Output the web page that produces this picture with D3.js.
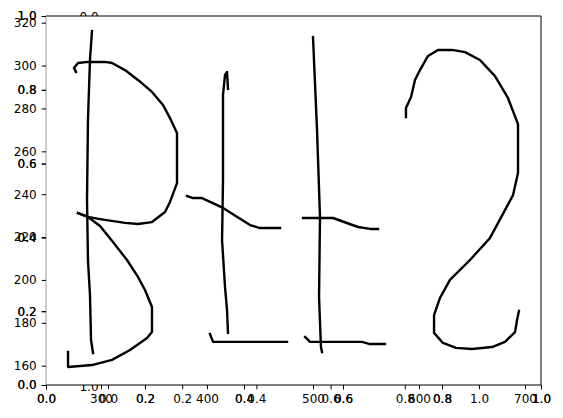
<!DOCTYPE html>
<html>
<head>
<meta charset="utf-8">
<script src="https://cdn.jsdelivr.net/npm/d3@7"></script>
<style>
  html, body { margin: 0; padding: 0; background: #fff; }
  svg text { font-family: "DejaVu Sans", sans-serif; font-size: 12px; fill: #000; }
</style>
</head>
<body>
<svg id="chart" width="563" height="418"></svg>
<script>
// strokes of the handwriting, in data units (x 300..700, y 160..320)
const bStem = [[291.5,316.1],[289.6,302.6],[287.7,274.6],[286.8,237.3],[287.7,209.3],[289.6,193],[290.6,172],[292.5,165.9]]
const bUpper = [[276.4,297],[274.5,298.9],[278.3,301.2],[287.7,301.7],[303.8,301.7],[310.4,301.2],[322.6,297.9],[334.9,293.3],[348.1,287.7],[358.5,281.6],[365.1,275.5],[371.7,268.5],[371.7,245.2],[365.1,236.4],[360.4,231.7],[348.1,227],[334.9,226.1],[322.6,226.6],[299.1,228.4],[287.7,229.4],[278.3,231.2]]
const bLower = [[278.3,231.2],[287.7,229.4],[299.1,225.2],[311.3,217.7],[324.5,209.3],[334.9,201.4],[341.5,195.3],[348.1,187.4],[348.1,175.7],[343.4,172.9],[327.4,167.3],[310.4,162.7],[291.5,160.3],[268.9,159.4],[268.9,166.4]]
const t1Stem = [[419.8,289.1],[418.9,297],[417,295.6],[415.1,286.3],[415.1,246.6],[414.2,218.6],[417,196.7],[418.9,186],[419.8,175.3]]
const t1Bar = [[381.1,239.2],[386.8,238.2],[395.3,238.2],[415.1,233.6],[440.6,225.6],[450,224.2],[468.9,224.2]]
const t1Base = [[402.8,174.8],[405.7,171.1],[475.5,171.1]]
const t2Stem = [[500,313.3],[503.8,269.9],[506.6,229.4],[505.7,192],[507.5,168.7],[508.5,166.4]]
const t2Bar = [[490.6,228.9],[518.9,228.9],[542.5,224.7],[553.8,223.8],[561.3,223.8]]
const t2Base = [[492.5,173.4],[497.2,171.1],[546.2,171.1],[553.8,170.1],[567.9,170.1]]
const two = [[587.7,276],[587.7,280.2],[592.5,285.3],[596.2,293.3],[600.9,297.9],[608.5,304.5],[617.9,307.3],[631.1,307.3],[643.4,306.3],[657.5,302.6],[671.7,295.1],[683.9,284.9],[693.4,272.7],[693.4,249.9],[688.7,239.6],[681.1,232.6],[667,219.6],[648.1,209.3],[629.2,200],[619.8,191.6],[614.2,183.6],[614.2,175.3],[622.6,170.6],[634.9,168.3],[650,167.8],[668.9,168.7],[681.1,171.1],[690.6,175.7],[692.5,181.3],[694.3,185.5]]
const strokes = [bStem, bUpper, bLower, t1Stem, t1Bar, t1Base, t2Stem, t2Bar, t2Base, two]

// tick values
const unitTicks = [0, 0.2, 0.4, 0.6, 0.8, 1.0]
const dataXTicks = [300, 400, 500, 600, 700]
const dataYTicks = [160, 180, 200, 220, 240, 260, 280, 300, 320]
const hiddenLabels = ["0.0", "1.0"]

const svg = d3.select("#chart")
const L = 46, R = 541, T = 16, B = 385

const xMain = d3.scaleLinear().domain([0, 1]).range([L, R])
const yMain = d3.scaleLinear().domain([0, 1]).range([B, T])
const xData = d3.scaleLinear().domain([300, 700]).range([101, 525])
const yData = d3.scaleLinear().domain([160, 320]).range([365.7, 22.7])
const xInner = d3.scaleLinear().domain([0, 1]).range([108, 479])

// labels of an axis lying underneath, mostly covered
svg.append("g").selectAll("text")
    .data(hiddenLabels)
    .enter()
    .append("text")
    .attr("x", 89)
    .attr("y", (d, i) => (i === 0 ? 20.7 : 391))
    .attr("text-anchor", "middle")
    .text((d) => d)

svg.append("rect")
    .attr("x", L).attr("y", T)
    .attr("width", R - L).attr("height", B - T)
    .attr("fill", "#fff")

// handwriting
const line = d3.line()
    .x((d) => xData(d[0]))
    .y((d) => yData(d[1]))
svg.append("g")
    .selectAll("path")
    .data(strokes)
    .enter()
    .append("path")
    .attr("d", line)
    .attr("fill", "none")
    .attr("stroke", "#000")
    .attr("stroke-width", 2.4)
    .attr("stroke-linejoin", "round")
    .attr("stroke-linecap", "square")

// frame
svg.append("path")
    .attr("d", `M${L},${T}H${R}V${B}H${L}`)
    .attr("fill", "none").attr("stroke", "#000").attr("stroke-width", 1)
svg.append("line")
    .attr("x1", L).attr("x2", L).attr("y1", T).attr("y2", B)
    .attr("stroke", "#9a9a9a").attr("stroke-width", 1)

function styleAxis(g) {
    g.select(".domain").remove()
    g.selectAll(".tick line").attr("stroke", "#000").attr("stroke-width", 1)
    g.selectAll(".tick text")
        .attr("font-family", "DejaVu Sans, sans-serif")
        .attr("font-size", 12)
        .attr("fill", "#000")
}

const fmt1 = d3.format(".1f")

// main unit axes, drawn twice so the labels come out heavier
for (let k = 0; k < 2; k++) {
    svg.append("g")
        .attr("transform", `translate(0,${B})`)
        .call(d3.axisBottom(xMain).tickValues(unitTicks).tickFormat(fmt1).tickSize(4.3).tickPadding(5))
        .call(styleAxis)
    svg.append("g")
        .attr("transform", `translate(${L},0)`)
        .call(d3.axisLeft(yMain).tickValues(unitTicks).tickFormat(fmt1).tickSize(4.3).tickPadding(5))
        .call(styleAxis)
}

// inner unit x axis
svg.append("g")
    .attr("transform", `translate(0,${B})`)
    .call(d3.axisBottom(xInner).tickValues(unitTicks).tickFormat(fmt1).tickSize(4.3).tickPadding(5))
    .call(styleAxis)

// data axes
svg.append("g")
    .attr("transform", `translate(0,${B})`)
    .call(d3.axisBottom(xData).tickValues(dataXTicks).tickFormat(d3.format("d")).tickSize(4.3).tickPadding(5))
    .call(styleAxis)
svg.append("g")
    .attr("transform", `translate(${L},0)`)
    .call(d3.axisLeft(yData).tickValues(dataYTicks).tickFormat(d3.format("d")).tickSize(4.3).tickPadding(5))
    .call(styleAxis)
</script>
</body>
</html>
